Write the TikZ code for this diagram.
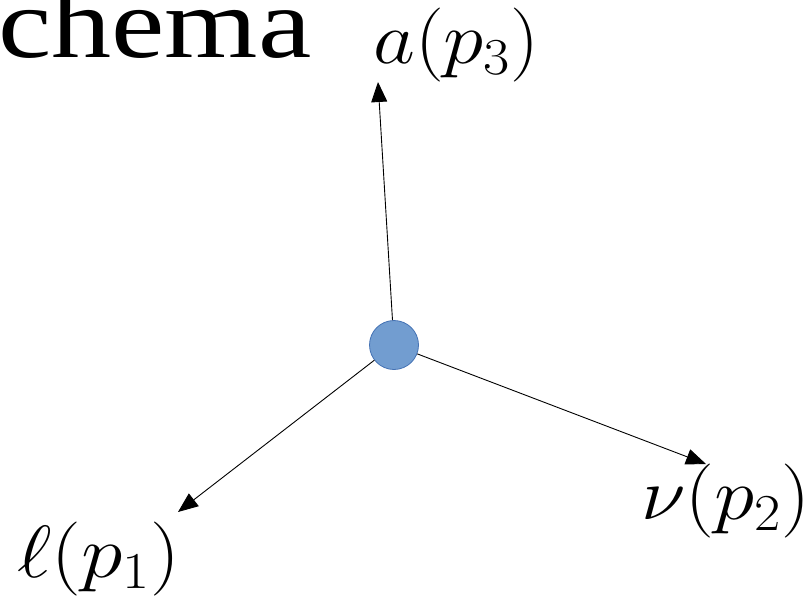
\RequirePackage{fix-cm}
\documentclass[tikz,border=0pt]{standalone}
\usepackage{amsmath,amssymb}
\usepackage[no-math]{fontspec}
\setmainfont{Liberation Serif}
\usepackage{xcolor}
\usepackage{tikz}
\usetikzlibrary{arrows.meta,positioning}

\definecolor{blobfill}{RGB}{114,157,208}
\definecolor{blobline}{RGB}{68,114,180}

\begin{document}
\begin{tikzpicture}[
  x=1pt, y=-1pt,
  vertex/.style={draw=blobline, line width=0.8pt, circle, minimum size=49pt,
    inner sep=0pt, fill=blobfill},
  leg/.style={line width=0.9pt, -{Triangle[length=20pt, width=16pt]}},
  lbl/.style={inner sep=0pt, anchor=base west, xscale=1.1,
    font=\fontsize{74}{74}\selectfont}
]
\useasboundingbox (0,0) rectangle (812,600);

% Title (cut at the left edge)
\node[inner sep=0pt, anchor=base west, xscale=1.2,
  font=\fontsize{100}{100}\selectfont] (title) at (-2,57) {chema};

% Vertex
\node[vertex] (vtx) at (394,345) {};

% Outgoing particles
\coordinate (tipa) at (378,82);
\coordinate (tipl) at (178,512);
\coordinate (tipn) at (706,464);
\draw[leg] (vtx) -- (tipa);
\draw[leg] (vtx) -- (tipl);
\draw[leg] (vtx) -- (tipn);

% Labels
\node[lbl] (la) at (373,63) {$a(p_3)$};
\node[lbl, xscale=1.03] (ll) at (17,577) {$\ell(p_1)$};
\node[lbl] (ln) at (641,519) {$\nu(p_2)$};

\end{tikzpicture}
\end{document}
